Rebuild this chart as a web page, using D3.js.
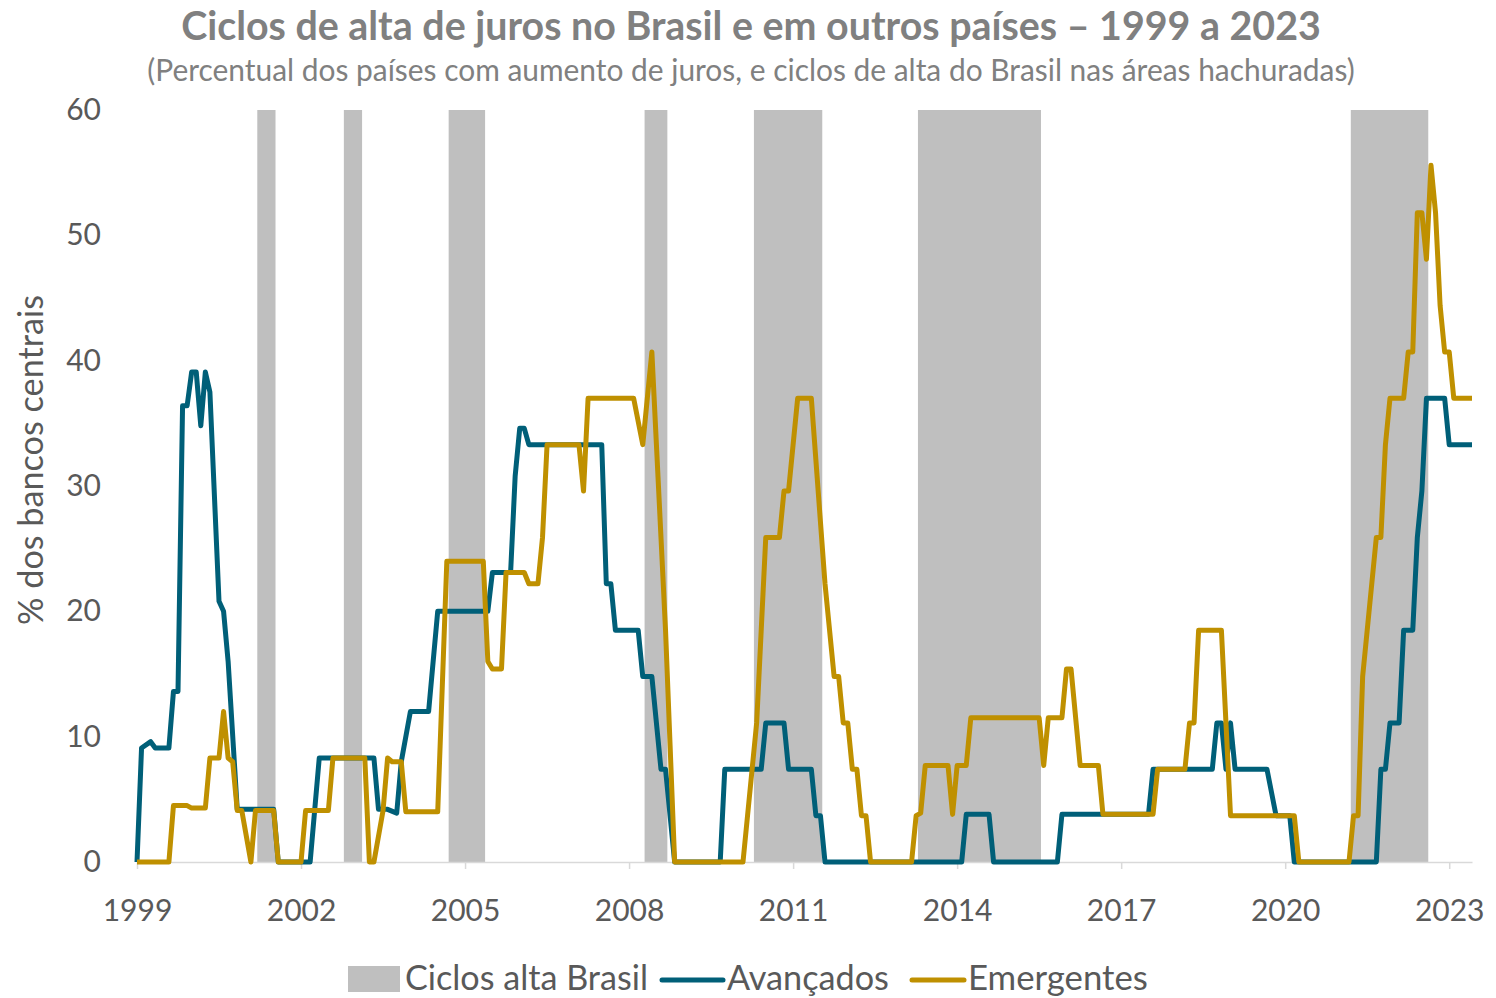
<!DOCTYPE html>
<html><head><meta charset="utf-8">
<script src="https://cdn.jsdelivr.net/npm/d3@7"></script>
<style>
body{margin:0;background:#fff;}
svg{display:block;}
text{font-family:Lato,'Open Sans',sans-serif;}
</style>
</head><body>
<svg id="chart" width="1496" height="998"></svg>
<script>
// ---------------- DATA ----------------
const titleText = "Ciclos de alta de juros no Brasil e em outros países – 1999 a 2023";
const subtitleText = "(Percentual dos países com aumento de juros, e ciclos de alta do Brasil nas áreas hachuradas)";
const yLabelText = "% dos bancos centrais";
const legendLabels = ["Ciclos alta Brasil", "Avançados", "Emergentes"];

const yTicks = [0, 10, 20, 30, 40, 50, 60];
const xTickYears = [1999, 2002, 2005, 2008, 2011, 2014, 2017, 2020, 2023];

// Brazil hiking cycles (shaded)
const cycleStarts = ["2001-03", "2002-10", "2004-09", "2008-04", "2010-04", "2013-04", "2021-03"];
const cycleEnds   = ["2001-07", "2003-02", "2005-05", "2008-09", "2011-07", "2015-07", "2022-08"];

// Avançados (vertices of the monthly series)
const avancadosDates = ["1999-01","1999-02","1999-04","1999-05","1999-08","1999-09","1999-10","1999-11","1999-12","2000-01","2000-02","2000-03","2000-04","2000-05","2000-07","2000-08","2000-09","2000-11","2001-07","2001-08","2002-03","2002-05","2003-05","2003-06","2003-08","2003-10","2003-11","2004-01","2004-05","2004-07","2005-06","2005-07","2005-11","2005-12","2006-01","2006-02","2006-03","2007-07","2007-08","2007-09","2007-10","2008-03","2008-04","2008-06","2008-08","2008-09","2008-11","2009-09","2009-10","2010-06","2010-07","2010-11","2010-12","2011-05","2011-06","2011-07","2011-08","2014-02","2014-03","2014-08","2014-09","2015-11","2015-12","2017-07","2017-08","2018-09","2018-10","2018-11","2018-12","2019-01","2019-02","2019-09","2019-11","2020-02","2020-03","2021-09","2021-10","2021-11","2021-12","2022-02","2022-03","2022-05","2022-06","2022-07","2022-08","2022-12","2023-01","2023-06"];
const avancadosValues = [0,9.1,9.6,9.1,9.1,13.6,13.6,36.4,36.4,39.1,39.1,34.8,39.1,37.5,20.8,20.0,16.0,4.2,4.2,0,0,8.3,8.3,4.2,4.2,3.9,8.0,12.0,12.0,20.0,20.0,23.1,23.1,30.8,34.6,34.6,33.3,33.3,22.2,22.2,18.5,18.5,14.8,14.8,7.4,7.4,0,0,7.4,7.4,11.1,11.1,7.4,7.4,3.7,3.7,0,0,3.8,3.8,0,0,3.8,3.8,7.4,7.4,11.1,11.1,7.4,11.1,7.4,7.4,3.7,3.7,0,0,7.4,7.4,11.1,11.1,18.5,18.5,25.9,29.6,37.0,37.0,33.3,33.3];

// Emergentes
const emergentesDates = ["1999-01","1999-08","1999-09","1999-12","2000-01","2000-04","2000-05","2000-07","2000-08","2000-09","2000-10","2000-11","2000-12","2001-02","2001-03","2001-07","2001-08","2002-01","2002-02","2002-07","2002-08","2003-03","2003-04","2003-05","2003-07","2003-08","2003-09","2003-11","2003-12","2004-07","2004-09","2005-05","2005-06","2005-07","2005-09","2005-10","2006-02","2006-03","2006-05","2006-06","2006-07","2007-02","2007-03","2007-04","2008-02","2008-04","2008-06","2008-07","2008-08","2008-09","2008-10","2008-11","2010-02","2010-03","2010-04","2010-05","2010-06","2010-07","2010-10","2010-11","2010-12","2011-02","2011-05","2011-08","2011-10","2011-11","2011-12","2012-01","2012-02","2012-03","2012-04","2012-05","2012-06","2013-03","2013-04","2013-05","2013-06","2013-11","2013-12","2014-01","2014-03","2014-04","2015-07","2015-08","2015-09","2015-12","2016-01","2016-02","2016-04","2016-08","2016-09","2017-08","2017-09","2018-03","2018-04","2018-05","2018-06","2018-11","2019-01","2020-03","2020-04","2021-03","2021-04","2021-05","2021-06","2021-07","2021-09","2021-10","2021-11","2021-12","2022-03","2022-04","2022-05","2022-06","2022-07","2022-08","2022-09","2022-10","2022-11","2022-12","2023-01","2023-02","2023-06"];
const emergentesValues = [0,0,4.5,4.5,4.3,4.3,8.3,8.3,12.0,8.3,8.0,4.1,4.1,0,4.1,4.1,0,0,4.1,4.1,8.3,8.3,0,0,4.1,8.3,8.0,8.0,4.0,4.0,24.0,24.0,16.0,15.4,15.4,23.1,23.1,22.2,22.2,25.9,33.3,33.3,29.6,37.0,37.0,33.3,40.7,33.3,25.9,18.5,9.3,0,0,3.7,7.4,11.1,18.5,25.9,25.9,29.6,29.6,37.0,37.0,22.2,14.8,14.8,11.1,11.1,7.4,7.4,3.7,3.7,0,0,3.7,3.9,7.7,7.7,3.8,7.7,7.7,11.5,11.5,7.7,11.5,11.5,15.4,15.4,7.7,7.7,3.8,3.8,7.4,7.4,11.1,11.1,18.5,18.5,3.7,3.7,0,0,3.7,3.7,14.8,18.5,25.9,25.9,33.3,37.0,37.0,40.7,40.7,51.8,51.8,48.1,55.6,51.8,44.4,40.7,40.7,37.0,37.0];

// ---------------- CHART ----------------
const COLORS = {av: "#005F78", em: "#BF9000", shade: "#BFBFBF", axis: "#D9D9D9", tick: "#595959", title: "#808080"};
const toMonth = s => { const [yy, mm] = s.split("-").map(Number); return (yy - 1999) * 12 + (mm - 1); };

const svg = d3.select("#chart");
const x = d3.scaleLinear().domain([0, 293]).range([137, 1472]);
const y = d3.scaleLinear().domain([0, 60]).range([862, 110]);

function fitWidth(sel, target) {
  const node = sel.node();
  const fs = parseFloat(sel.attr("font-size"));
  const w = node.getComputedTextLength();
  if (w > 0) sel.attr("font-size", (fs * target / w).toFixed(2));
}

// shaded cycles
const SHIFT = 0.4;
svg.append("g").selectAll("rect")
  .data(cycleStarts.map((s, i) => ({s: toMonth(s), e: toMonth(cycleEnds[i])})))
  .join("rect")
  .attr("x", d => x(d.s + SHIFT))
  .attr("width", d => x(d.e + SHIFT) - x(d.s + SHIFT))
  .attr("y", y(60))
  .attr("height", y(0) - y(60))
  .attr("fill", COLORS.shade);

// x axis
const xAxis = d3.axisBottom(x)
  .tickValues(xTickYears.map(yr => (yr - 1999) * 12))
  .tickFormat((d, i) => xTickYears[i])
  .tickSize(7).tickSizeOuter(0);
const gx = svg.append("g").attr("transform", `translate(0,${y(0)})`).call(xAxis);
gx.select(".domain").attr("stroke", COLORS.axis).attr("stroke-width", 1.5);
gx.selectAll(".tick line").attr("stroke", COLORS.axis).attr("stroke-width", 1.5);
gx.selectAll(".tick text")
  .attr("fill", COLORS.tick).attr("font-size", 30).attr("font-family", "Lato")
  .attr("y", 59).attr("dy", null);

// y axis
const yAxis = d3.axisLeft(y).tickValues(yTicks).tickSize(0).tickPadding(36);
const gy = svg.append("g").attr("transform", `translate(${x(0)},0)`).call(yAxis);
gy.select(".domain").remove();
gy.selectAll(".tick text").attr("fill", COLORS.tick).attr("font-size", 30).attr("font-family", "Lato");

// lines
const line = d3.line().x(d => x(d.m)).y(d => y(d.v));
const avData = avancadosDates.map((d, i) => ({m: toMonth(d), v: avancadosValues[i]}));
const emData = emergentesDates.map((d, i) => ({m: toMonth(d), v: emergentesValues[i]}));
svg.append("path").datum(avData).attr("d", line)
  .attr("fill", "none").attr("stroke", COLORS.av).attr("stroke-width", 5).attr("stroke-linejoin", "round");
svg.append("path").datum(emData).attr("d", line)
  .attr("fill", "none").attr("stroke", COLORS.em).attr("stroke-width", 5).attr("stroke-linejoin", "round");

// titles
const t1 = svg.append("text").attr("x", 751).attr("y", 40).attr("text-anchor", "middle")
  .attr("font-size", 34).attr("font-weight", 700).attr("fill", COLORS.title).text(titleText);
fitWidth(t1, 1140);
const t2 = svg.append("text").attr("x", 751).attr("y", 81).attr("text-anchor", "middle")
  .attr("font-size", 26).attr("fill", COLORS.title).text(subtitleText);
fitWidth(t2, 1208);

// y label
const yl = svg.append("text").attr("transform", "translate(43,460) rotate(-90)").attr("text-anchor", "middle")
  .attr("font-size", 30).attr("fill", COLORS.tick).text(yLabelText);
fitWidth(yl, 330);

// legend
const lg = svg.append("g");
lg.append("rect").attr("x", 348).attr("y", 966).attr("width", 52).attr("height", 26).attr("fill", COLORS.shade);
const l1 = lg.append("text").attr("x", 405).attr("y", 990).attr("font-size", 32).attr("fill", COLORS.tick).text(legendLabels[0]);
fitWidth(l1, 243);
lg.append("line").attr("x1", 662).attr("x2", 723).attr("y1", 980).attr("y2", 980)
  .attr("stroke", COLORS.av).attr("stroke-width", 5).attr("stroke-linecap", "round");
const l2 = lg.append("text").attr("x", 727).attr("y", 990).attr("font-size", 32).attr("fill", COLORS.tick).text(legendLabels[1]);
fitWidth(l2, 162);
lg.append("line").attr("x1", 912).attr("x2", 964).attr("y1", 980).attr("y2", 980)
  .attr("stroke", COLORS.em).attr("stroke-width", 5).attr("stroke-linecap", "round");
const l3 = lg.append("text").attr("x", 968).attr("y", 990).attr("font-size", 32).attr("fill", COLORS.tick).text(legendLabels[2]);
fitWidth(l3, 180);
</script>
</body></html>
